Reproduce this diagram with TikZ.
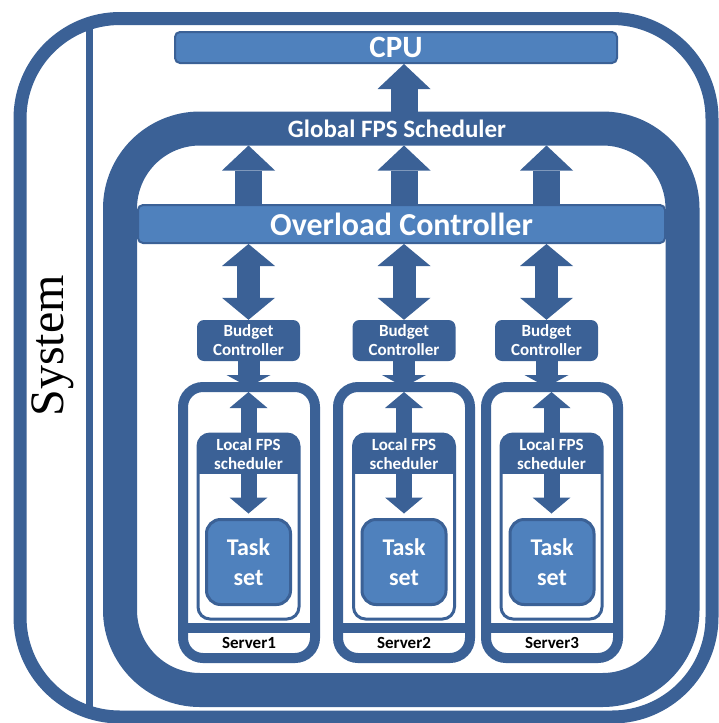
\documentclass[tikz,border=0pt]{standalone}
\usepackage{fontspec}
\usepackage{tikz}
\usetikzlibrary{arrows.meta,positioning}
\newfontfamily\boxfont{Carlito}
\newfontfamily\sysfont{Liberation Serif}
\definecolor{ringBlue}{HTML}{3B6196}
\definecolor{barBlue}{HTML}{4F81BD}

\begin{document}
\begin{tikzpicture}[x=1pt,y=-1pt,
  bar/.style={draw=ringBlue,line width=2,fill=barBlue,rounded corners=5,inner sep=0,text=white},
  ctrl/.style={fill=ringBlue,rounded corners=7,minimum width=103,minimum height=41,inner sep=0,align=center,text=white,font=\boxfont\bfseries\fontsize{17}{19}\selectfont},
  server/.style={draw=ringBlue,line width=10,rounded corners=20,minimum width=132,minimum height=271,outer sep=0},
  lfsframe/.style={draw=ringBlue,line width=3,rounded corners=12,minimum width=101,minimum height=185,outer sep=0,
    path picture={\fill[ringBlue,sharp corners] (path picture bounding box.north west) rectangle ([yshift=-40]path picture bounding box.north east);}},
  header/.style={minimum width=101,minimum height=40,inner sep=0,outer sep=0,align=center,text=white,font=\boxfont\bfseries\fontsize{17}{19}\selectfont},
  taskbox/.style={draw=ringBlue,line width=3,fill=barBlue,rounded corners=14,minimum width=84,minimum height=85,inner sep=0,outer sep=0,align=center,text=white,font=\boxfont\bfseries\fontsize{24}{30}\selectfont},
  srvname/.style={font=\boxfont\bfseries\fontsize{17}{19}\selectfont},
  upBig/.style={ringBlue,line width=27,>={Triangle[width=53pt,length=25pt,line width=0pt]},->},
  twoWay/.style={ringBlue,line width=23,>={Triangle[width=53pt,length=22pt,line width=0pt]},<->},
  downSm/.style={ringBlue,line width=22,>={Triangle[width=44pt,length=12pt,line width=0pt]},->},
  inArr/.style={ringBlue,line width=16,>={Triangle[width=38pt,length=16pt,line width=0pt]},->}]
\useasboundingbox (0,0) rectangle (718,723);
\draw[ringBlue,line width=13,rounded corners=100] (20,18.5) rectangle (712,717);
\draw[ringBlue,line width=7] (89,18.5) -- (89,717);
\node[rotate=90,font=\sysfont\fontsize{48}{52}\selectfont] (system) at (53,346) {System};

\node[draw=ringBlue,line width=34,rounded corners=80,minimum width=562.5,minimum height=561.5,inner sep=0,outer sep=0] (gfs) at (401.25,409.25) {};
\coordinate (gout) at ([yshift=17]gfs.north);
\coordinate (gin) at ([yshift=-17]gfs.north);
\node[text=white,font=\boxfont\bfseries\fontsize{25}{28}\selectfont] (gfsName) at (397,128.5) {Global FPS Scheduler};
\node[bar,minimum width=442,minimum height=31,font=\boxfont\bfseries\fontsize{31}{34}\selectfont] (cpu) at (396,47.5) {CPU};
\node[bar,minimum width=527,minimum height=38,font=\boxfont\bfseries\fontsize{32}{36}\selectfont] (ovl) at (401.5,224) {Overload Controller};

\node[ctrl] (bc1) at (248.5,340.5) {Budget\\Controller};
\node[ctrl] (bc2) at (404,340.5) {Budget\\Controller};
\node[ctrl] (bc3) at (546.5,340.5) {Budget\\Controller};

\draw[upBig] (bc2 |- gout) -- (bc2 |- cpu.south);
\draw[upBig] (bc1 |- ovl.north) -- (bc1 |- gin);
\draw[upBig] (bc2 |- ovl.north) -- (bc2 |- gin);
\draw[upBig] (bc3 |- ovl.north) -- (bc3 |- gin);
\draw[twoWay] (bc1 |- ovl.south) -- (bc1.north);
\draw[twoWay] (bc2 |- ovl.south) -- (bc2.north);
\draw[twoWay] (bc3 |- ovl.south) -- (bc3.north);

\node[server] (srv1) at (249,522.5) {};
\node[server] (srv2) at (404,522.5) {};
\node[server] (srv3) at (552,522.5) {};
\coordinate (sepTop) at (0,623);
\coordinate (sepBot) at (0,633);
\fill[ringBlue] (srv1.west |- sepTop) rectangle (srv1.east |- sepBot);
\fill[ringBlue] (srv2.west |- sepTop) rectangle (srv2.east |- sepBot);
\fill[ringBlue] (srv3.west |- sepTop) rectangle (srv3.east |- sepBot);
\node[srvname] (srvName1) at ([yshift=15]srv1.south) {Server1};
\node[srvname] (srvName2) at ([yshift=15]srv2.south) {Server2};
\node[srvname] (srvName3) at ([yshift=15]srv3.south) {Server3};

\node[lfsframe] (frm1) at (248.5,526.5) {};
\node[lfsframe] (frm2) at (404,526.5) {};
\node[lfsframe] (frm3) at (551.5,526.5) {};
\node[header,below=0pt of frm1.north] (lfs1) {Local FPS\\scheduler};
\node[header,below=0pt of frm2.north] (lfs2) {Local FPS\\scheduler};
\node[header,below=0pt of frm3.north] (lfs3) {Local FPS\\scheduler};
\node[taskbox] (ts1) at (248.5,562) {Task\\set};
\node[taskbox] (ts2) at (404,562) {Task\\set};
\node[taskbox] (ts3) at (552,562) {Task\\set};

\draw[downSm] (bc1.south) -- (bc1.south |- srv1.north);
\draw[downSm] (bc2.south) -- (bc2.south |- srv2.north);
\draw[downSm] (bc3.south) -- (bc3.south |- srv3.north);
\draw[inArr,shorten >=5] (lfs1.north) -- (lfs1.north |- srv1.north);
\draw[inArr,shorten >=5] (lfs2.north) -- (lfs2.north |- srv2.north);
\draw[inArr,shorten >=5] (lfs3.north) -- (lfs3.north |- srv3.north);
\draw[inArr,shorten >=6] (lfs1.south) -- (lfs1.south |- ts1.north);
\draw[inArr,shorten >=6] (lfs2.south) -- (lfs2.south |- ts2.north);
\draw[inArr,shorten >=6] (lfs3.south) -- (lfs3.south |- ts3.north);
\end{tikzpicture}
\end{document}
